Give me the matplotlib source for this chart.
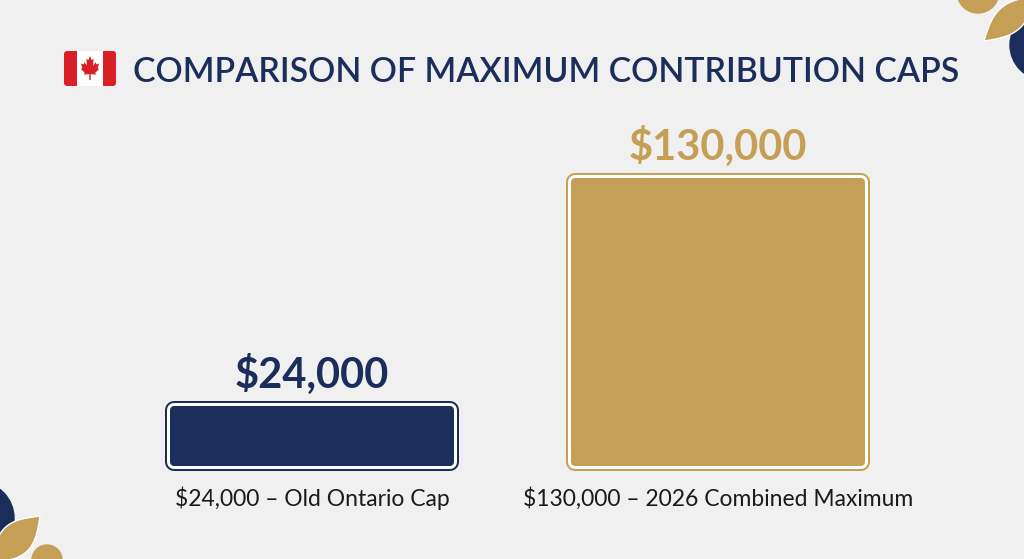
import numpy as np
import matplotlib.pyplot as plt
from matplotlib.patches import FancyBboxPatch, Rectangle, Polygon, Circle

# Data
categories = ['$24,000 – Old Ontario Cap', '$130,000 – 2026 Combined Maximum']
values = [24000, 130000]
value_labels = ['$24,000', '$130,000']
title = 'COMPARISON OF MAXIMUM CONTRIBUTION CAPS'

NAVY = '#1b2d5b'
GOLD = '#c59f56'
BG = '#f0f0f0'
RED = '#d92027'
colors = [NAVY, GOLD]

fig = plt.figure(figsize=(10.24, 5.59), dpi=100)
fig.patch.set_facecolor(BG)

# decoration layer in pixel coordinates
deco = fig.add_axes([0, 0, 1, 1])
deco.set_xlim(0, 1024)
deco.set_ylim(559, 0)
deco.axis('off')


def lens(p0, p1, bulge=0.2, n=40):
    p0, p1 = np.array(p0, float), np.array(p1, float)
    d = p1 - p0
    nrm = np.array([-d[1], d[0]])
    t = np.linspace(0, 1, n)
    base = p0 + np.outer(t, d)
    off = np.outer(np.sin(np.pi * t) * bulge, nrm)
    return np.vstack([base + off, (base - off)[::-1]])


# top right corner
deco.add_patch(Circle((978, -8), 21, color=GOLD, zorder=1))
deco.add_patch(Circle((1045, 45), 35, color=NAVY, zorder=1))
deco.add_patch(Polygon(lens((984, 41), (1036, -4), 0.2), closed=True, facecolor=GOLD,
                       edgecolor='white', lw=1.0, zorder=2))
# bottom left corner
deco.add_patch(Circle((-22, 518), 36, color=NAVY, zorder=1))
deco.add_patch(Circle((47, 560), 15, color=GOLD, zorder=1))
deco.add_patch(Polygon(lens((-8, 563), (40, 516), 0.24), closed=True, facecolor=GOLD,
                       edgecolor='white', lw=1.0, zorder=2))

# flag
deco.add_patch(FancyBboxPatch((64, 51), 52, 35, boxstyle='round,pad=0,rounding_size=3',
                              facecolor='white', edgecolor='none', zorder=3))
deco.add_patch(FancyBboxPatch((64, 51), 13, 35, boxstyle='round,pad=0,rounding_size=3',
                              facecolor=RED, edgecolor='none', zorder=4))
deco.add_patch(FancyBboxPatch((103, 51), 13, 35, boxstyle='round,pad=0,rounding_size=3',
                              facecolor=RED, edgecolor='none', zorder=4))
deco.add_patch(Rectangle((72, 51), 5, 35, facecolor=RED, edgecolor='none', zorder=4))
deco.add_patch(Rectangle((103, 51), 5, 35, facecolor=RED, edgecolor='none', zorder=4))
half = [(0, 1.0), (0.09, 0.83), (0.2, 0.89), (0.17, 0.6), (0.31, 0.74), (0.35, 0.65),
        (0.5, 0.69), (0.43, 0.5), (0.5, 0.45), (0.29, 0.3), (0.33, 0.22), (0.04, 0.25),
        (0.04, 0.0)]
leaf = half + [(-x, y) for x, y in half[::-1]]
leaf = np.array(leaf)
lx = 90 + leaf[:, 0] * 18
ly = 80 - leaf[:, 1] * 24
deco.add_patch(Polygon(np.column_stack([lx, ly]), closed=True, facecolor=RED,
                       edgecolor='none', zorder=5))

fig.text(133 / 1024, 1 - 82 / 559, title, fontsize=24.4, color=NAVY, family='Lato',
         weight='semibold', ha='left', va='baseline')

# bar axes
ax = fig.add_axes([109 / 1024, 1 - 462 / 559, 812 / 1024, (462 - 182.4) / 559])
ax.set_xlim(-0.5, 1.5)
ax.set_ylim(0, 130000)
ax.axis('off')

x = np.arange(len(values))
widths = [0.68, 0.705]
px = 0.72  # points per pixel
for lw, fc, ec, z in [(18, None, None, 1), (14, 'white', 'white', 2), (8, None, None, 3)]:
    bars = ax.bar(x, values, width=widths, zorder=z)
    for b, c in zip(bars, colors):
        b.set_facecolor(fc or c)
        b.set_edgecolor(ec or c)
        b.set_linewidth(lw * px)
        b.set_joinstyle('round')
        b.set_clip_on(False)

for xi, v, lab, c in zip(x, values, value_labels, colors):
    ax.annotate(lab, (xi, v), xytext=(0, 22 * px), textcoords='offset points',
                ha='center', va='baseline', fontsize=30, weight='bold', family='Lato',
                color=c, annotation_clip=False)

for xi, cat in zip(x, categories):
    ax.annotate(cat, (xi, 0), xytext=(0, -44 * px), textcoords='offset points',
                ha='center', va='baseline', fontsize=16.5, family='Lato',
                color='#1a1a1a', annotation_clip=False)

fig.savefig('out.png', dpi=100, facecolor=BG)
